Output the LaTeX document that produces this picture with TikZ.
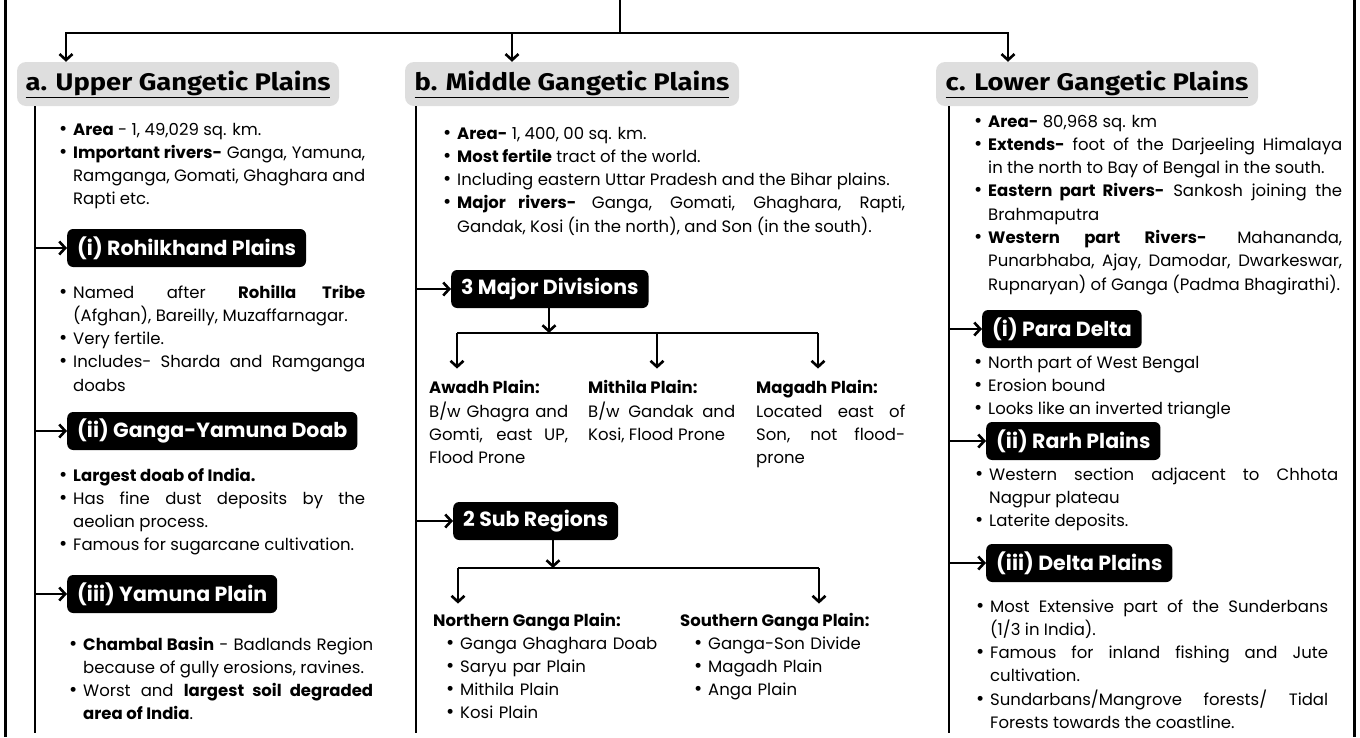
\documentclass[tikz,border=0pt]{standalone}
\usepackage{fontspec}
\setmainfont{Poppins}
\newfontfamily\headfont[FakeStretch=1.14]{Fira Sans}
\usetikzlibrary{arrows.meta,positioning}
\definecolor{headgray}{HTML}{DEDEDE}
\hyphenpenalty=10000
\newcommand\bul[1]{\hangindent=14pt\hangafter=1\noindent\hbox to 14pt{\fontsize{20}{0}\selectfont\textbullet\hss}#1\par}
\tikzset{
  headbox/.style={fill=headgray,rounded corners=9pt,minimum height=44pt,inner xsep=8pt,
    font=\headfont\bfseries\fontsize{24}{26}\selectfont},
  darkbox/.style={anchor=west,fill=black,text=white,rounded corners=6pt,minimum height=38pt,
    inner xsep=10pt,font=\bfseries\fontsize{20.5}{22}\selectfont},
  txt/.style={anchor=base west,inner sep=0pt,align=justify,font=\fontsize{16.5}{23.3}\selectfont},
  ttl/.style={anchor=base west,inner sep=0pt,font=\bfseries\fontsize{16.5}{23.3}\selectfont},
  trunk/.style={line width=2.6pt},
  arr/.style={-{Straight Barb[length=6pt,width=13pt]},line width=2.6pt},
  frameline/.style={line width=3pt},
}
\begin{document}
\begin{tikzpicture}[x=1pt,y=-1pt]
	\useasboundingbox (0,0) rectangle (1360,737);
	
	%frame
	\draw[frameline] (5,0) -- (5,737);
	\draw[frameline] (1354,0) -- (1354,737);
	
	%headers
	\node[headbox,minimum width=322pt] (aHead) at (178,84) {\underline{a. Upper Gangetic Plains}};
	\node[headbox,minimum width=334pt] (bHead) at (572,84) {\underline{b. Middle Gangetic Plains}};
	\node[headbox,minimum width=322pt] (cHead) at (1097,84) {\underline{c. Lower Gangetic Plains}};
	
	%top split
	\coordinate (root) at (620,0);
	\coordinate (split) at (620,33);
	\draw[trunk] (root) -- (split);
	\draw[arr] (split) -| (aHead.north -| 66,0);
	\draw[arr] (split) -| (bHead.north -| 512,0);
	\draw[arr] (split) -| (cHead.north -| 1008,0);
	
	%column lines
	\coordinate (aEnd) at (35,733);
	\coordinate (bEnd) at (416,733);
	\coordinate (cEnd) at (949,733);
	\draw[trunk] (aHead.south -| aEnd) -- (aEnd);
	\draw[trunk] (bHead.south -| bEnd) -- (bEnd);
	\draw[trunk] (cHead.south -| cEnd) -- (cEnd);
	
	%column a
	\node[txt,text width=306pt] (aInfo) at (59,135) {%
		\bul{\textbf{Area} - 1, 49,029 sq. km.}%
		\bul{\textbf{Important rivers-} Ganga, Yamuna, \linebreak Ramganga, Gomati, Ghaghara and \linebreak Rapti etc.}};
	\node[darkbox] (rohil) at (67,248) {(i) Rohilkhand Plains};
	\node[txt,text width=306pt] (aRohil) at (59,298) {%
		\bul{Named after \textbf{Rohilla Tribe} \linebreak (Afghan), Bareilly, Muzaffarnagar.}%
		\bul{Very fertile.}%
		\bul{Includes- Sharda and Ramganga \linebreak doabs}};
	\node[darkbox] (gyDoab) at (67,431) {(ii) Ganga-Yamuna Doab};
	\node[txt,text width=306pt] (aDoab) at (59,481) {%
		\bul{\textbf{Largest doab of India.}}%
		\bul{Has fine dust deposits by the \linebreak aeolian process.}%
		\bul{Famous for sugarcane cultivation.}};
	\node[darkbox] (yamuna) at (67,594) {(iii) Yamuna Plain};
	\node[txt,text width=304pt] (aYam) at (69,650) {%
		\bul{\textbf{Chambal Basin} - Badlands Region \linebreak because of gully erosions, ravines.}%
		\bul{Worst and \textbf{largest soil degraded} \linebreak \textbf{area of India}.}};
	\draw[arr] (aEnd |- rohil) -- (rohil);
	\draw[arr] (aEnd |- gyDoab) -- (gyDoab);
	\draw[arr] (aEnd |- yamuna) -- (yamuna);
	
	%column b
	\node[txt,text width=462pt] (bInfo) at (443,139) {%
		\bul{\textbf{Area-} 1, 400, 00 sq. km.}%
		\bul{\textbf{Most fertile} tract of the world.}%
		\bul{Including eastern Uttar Pradesh and the Bihar plains.}%
		\bul{\textbf{Major rivers-} Ganga, Gomati, Ghaghara, Rapti, \linebreak Gandak, Kosi (in the north), and Son (in the south).}};
	\node[darkbox] (majDiv) at (451,289) {3 Major Divisions};
	\node[ttl] (awadh) at (429,393) {Awadh Plain:};
	\node[ttl] (mithila) at (588,393) {Mithila Plain:};
	\node[ttl] (magadh) at (756,393) {Magadh Plain:};
	\node[txt,text width=139pt] (awadhTxt) at (429,417) {B/w Ghagra and \linebreak Gomti, east UP, \linebreak Flood Prone};
	\node[txt,text width=147pt] (mithilaTxt) at (588,417) {B/w Gandak and \linebreak Kosi, Flood Prone};
	\node[txt,text width=149pt] (magadhTxt) at (756,417) {Located east of \linebreak Son, not flood-\linebreak prone};
	\coordinate (majBar) at (549,333);
	\coordinate (majL) at (457,333);
	\coordinate (majM) at (657,333);
	\coordinate (majR) at (818,333);
	\draw[arr] (bEnd |- majDiv) -- (majDiv);
	\draw[arr] (majDiv.south -| majBar) -- (majBar);
	\draw[trunk] (majL) -- (majR);
	\draw[arr,shorten >=11pt] (majL) -- (majL |- awadh.north);
	\draw[arr,shorten >=11pt] (majM) -- (majM |- mithila.north);
	\draw[arr,shorten >=11pt] (majR) -- (majR |- magadh.north);
	
	\node[darkbox] (subReg) at (453,521) {2 Sub Regions};
	\node[ttl] (northT) at (433,626) {Northern Ganga Plain:};
	\node[ttl] (southT) at (680,626) {Southern Ganga Plain:};
	\node[txt,text width=230pt,align=left] (northList) at (446,649) {%
		\bul{Ganga Ghaghara Doab}\bul{Saryu par Plain}\bul{Mithila Plain}\bul{Kosi Plain}};
	\node[txt,text width=220pt,align=left] (southList) at (694,649) {%
		\bul{Ganga-Son Divide}\bul{Magadh Plain}\bul{Anga Plain}};
	\coordinate (subBar) at (553,568);
	\coordinate (subL) at (458,568);
	\coordinate (subR) at (819,568);
	\draw[arr] (bEnd |- subReg) -- (subReg);
	\draw[arr] (subReg.south -| subBar) -- (subBar);
	\draw[trunk] (subL) -- (subR);
	\draw[arr,shorten >=9pt] (subL) -- (subL |- northT.north);
	\draw[arr,shorten >=9pt] (subR) -- (subR |- southT.north);
	
	%column c
	\node[txt,text width=368pt] (cInfo) at (974,127) {%
		\bul{\textbf{Area-} 80,968 sq. km}%
		\bul{\textbf{Extends-} foot of the Darjeeling Himalaya \linebreak in the north to Bay of Bengal in the south.}%
		\bul{\textbf{Eastern part Rivers-} Sankosh joining the \linebreak Brahmaputra}%
		\bul{\textbf{Western part Rivers-} Mahananda, \linebreak Punarbhaba, Ajay, Damodar, Dwarkeswar, \linebreak Rupnaryan) of Ganga (Padma Bhagirathi).}};
	\node[darkbox] (para) at (982,329) {(i) Para Delta};
	\node[txt,text width=364pt] (cPara) at (974,368) {%
		\bul{North part of West Bengal}\bul{Erosion bound}\bul{Looks like an inverted triangle}};
	\node[darkbox] (rarh) at (986,441) {(ii) Rarh Plains};
	\node[txt,text width=363pt] (cRarh) at (975,480) {%
		\bul{Western section adjacent to Chhota \linebreak Nagpur plateau}\bul{Laterite deposits.}};
	\node[darkbox] (delta) at (986,563) {(iii) Delta Plains};
	\node[txt,text width=352pt] (cDelta) at (976,612) {%
		\bul{Most Extensive part of the Sunderbans \linebreak (1/3 in India).}%
		\bul{Famous for inland fishing and Jute \linebreak cultivation.}%
		\bul{Sundarbans/Mangrove forests/ Tidal \linebreak Forests towards the coastline.}};
	\draw[arr] (cEnd |- para) -- (para);
	\draw[arr] (cEnd |- rarh) -- (rarh);
	\draw[arr] (cEnd |- delta) -- (delta);
\end{tikzpicture}
\end{document}
